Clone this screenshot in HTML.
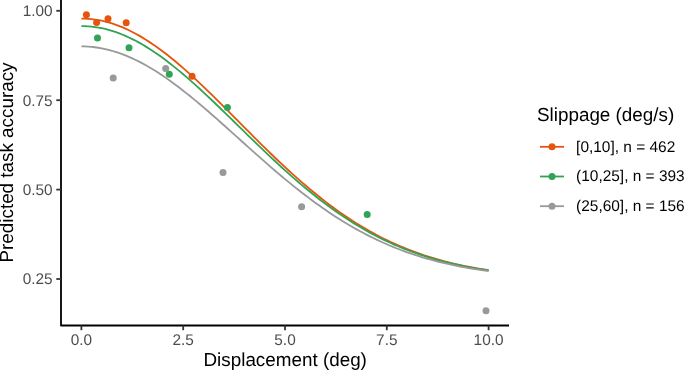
<!DOCTYPE html>
<html><head><meta charset="utf-8"><style>
html,body{margin:0;padding:0;background:#fff;}
body{width:685px;height:371px;overflow:hidden;}
svg{display:block;will-change:transform;}
text{font-family:"Liberation Sans",sans-serif;text-rendering:geometricPrecision;}
.tk{font-size:15.4px;fill:#4D4D4D;}
.ti{font-size:18.85px;fill:#000;}
.lg{font-size:15.45px;fill:#000;}
</style></head><body>
<svg width="685" height="371" viewBox="0 0 685 371">
<path d="M81.40,18.55 L84.79,18.61 L88.19,18.79 L91.58,19.10 L94.97,19.52 L98.37,20.07 L101.76,20.74 L105.15,21.52 L108.55,22.43 L111.94,23.45 L115.33,24.59 L118.73,25.84 L122.12,27.20 L125.51,28.67 L128.91,30.25 L132.30,31.94 L135.69,33.73 L139.09,35.62 L142.48,37.61 L145.87,39.70 L149.27,41.88 L152.66,44.15 L156.05,46.51 L159.45,48.95 L162.84,51.47 L166.23,54.08 L169.63,56.75 L173.02,59.50 L176.41,62.31 L179.81,65.19 L183.20,68.13 L186.59,71.13 L189.99,74.18 L193.38,77.28 L196.77,80.43 L200.17,83.62 L203.56,86.85 L206.95,90.11 L210.35,93.41 L213.74,96.73 L217.13,100.08 L220.53,103.45 L223.92,106.83 L227.31,110.23 L230.71,113.64 L234.10,117.06 L237.49,120.48 L240.89,123.91 L244.28,127.33 L247.67,130.74 L251.07,134.14 L254.46,137.54 L257.85,140.92 L261.25,144.28 L264.64,147.62 L268.03,150.94 L271.43,154.23 L274.82,157.50 L278.21,160.73 L281.61,163.94 L285.00,167.10 L288.39,170.24 L291.79,173.33 L295.18,176.39 L298.57,179.40 L301.97,182.37 L305.36,185.30 L308.75,188.18 L312.15,191.01 L315.54,193.80 L318.93,196.53 L322.33,199.22 L325.72,201.85 L329.11,204.43 L332.51,206.96 L335.90,209.44 L339.29,211.86 L342.69,214.23 L346.08,216.55 L349.47,218.81 L352.87,221.01 L356.26,223.16 L359.65,225.26 L363.05,227.30 L366.44,229.29 L369.83,231.22 L373.23,233.11 L376.62,234.93 L380.01,236.71 L383.41,238.43 L386.80,240.10 L390.19,241.72 L393.59,243.29 L396.98,244.81 L400.37,246.28 L403.77,247.70 L407.16,249.07 L410.55,250.40 L413.95,251.68 L417.34,252.92 L420.73,254.11 L424.13,255.26 L427.52,256.36 L430.91,257.43 L434.31,258.45 L437.70,259.44 L441.09,260.39 L444.49,261.30 L447.88,262.17 L451.27,263.01 L454.67,263.81 L458.06,264.58 L461.45,265.32 L464.85,266.02 L468.24,266.70 L471.63,267.34 L475.03,267.96 L478.42,268.55 L481.81,269.11 L485.21,269.65 L488.60,270.16" fill="none" stroke="#E6550D" stroke-width="1.8" stroke-linejoin="round"/>
<path d="M81.40,26.08 L84.79,26.14 L88.19,26.31 L91.58,26.61 L94.97,27.02 L98.37,27.56 L101.76,28.20 L105.15,28.97 L108.55,29.85 L111.94,30.84 L115.33,31.94 L118.73,33.16 L122.12,34.48 L125.51,35.91 L128.91,37.45 L132.30,39.08 L135.69,40.82 L139.09,42.66 L142.48,44.59 L145.87,46.62 L149.27,48.74 L152.66,50.94 L156.05,53.23 L159.45,55.60 L162.84,58.05 L166.23,60.58 L169.63,63.18 L173.02,65.85 L176.41,68.58 L179.81,71.38 L183.20,74.23 L186.59,77.14 L189.99,80.10 L193.38,83.11 L196.77,86.17 L200.17,89.27 L203.56,92.40 L206.95,95.57 L210.35,98.77 L213.74,102.00 L217.13,105.25 L220.53,108.52 L223.92,111.81 L227.31,115.11 L230.71,118.43 L234.10,121.74 L237.49,125.07 L240.89,128.39 L244.28,131.71 L247.67,135.03 L251.07,138.33 L254.46,141.63 L257.85,144.91 L261.25,148.17 L264.64,151.42 L268.03,154.64 L271.43,157.84 L274.82,161.01 L278.21,164.15 L281.61,167.26 L285.00,170.34 L288.39,173.38 L291.79,176.39 L295.18,179.36 L298.57,182.28 L301.97,185.17 L305.36,188.01 L308.75,190.81 L312.15,193.56 L315.54,196.26 L318.93,198.92 L322.33,201.52 L325.72,204.08 L329.11,206.59 L332.51,209.05 L335.90,211.45 L339.29,213.80 L342.69,216.10 L346.08,218.35 L349.47,220.55 L352.87,222.69 L356.26,224.78 L359.65,226.81 L363.05,228.80 L366.44,230.73 L369.83,232.61 L373.23,234.43 L376.62,236.21 L380.01,237.93 L383.41,239.60 L386.80,241.23 L390.19,242.80 L393.59,244.32 L396.98,245.80 L400.37,247.22 L403.77,248.60 L407.16,249.94 L410.55,251.23 L413.95,252.47 L417.34,253.67 L420.73,254.83 L424.13,255.94 L427.52,257.02 L430.91,258.05 L434.31,259.05 L437.70,260.01 L441.09,260.93 L444.49,261.81 L447.88,262.66 L451.27,263.47 L454.67,264.25 L458.06,265.00 L461.45,265.71 L464.85,266.40 L468.24,267.06 L471.63,267.68 L475.03,268.28 L478.42,268.85 L481.81,269.40 L485.21,269.92 L488.60,270.42" fill="none" stroke="#31A354" stroke-width="1.8" stroke-linejoin="round"/>
<path d="M81.40,46.38 L84.79,46.44 L88.19,46.60 L91.58,46.88 L94.97,47.26 L98.37,47.75 L101.76,48.34 L105.15,49.04 L108.55,49.85 L111.94,50.76 L115.33,51.78 L118.73,52.90 L122.12,54.11 L125.51,55.43 L128.91,56.84 L132.30,58.35 L135.69,59.95 L139.09,61.64 L142.48,63.42 L145.87,65.28 L149.27,67.23 L152.66,69.25 L156.05,71.36 L159.45,73.54 L162.84,75.79 L166.23,78.12 L169.63,80.51 L173.02,82.96 L176.41,85.48 L179.81,88.05 L183.20,90.67 L186.59,93.35 L189.99,96.07 L193.38,98.84 L196.77,101.65 L200.17,104.50 L203.56,107.39 L206.95,110.30 L210.35,113.24 L213.74,116.21 L217.13,119.20 L220.53,122.21 L223.92,125.24 L227.31,128.27 L230.71,131.32 L234.10,134.37 L237.49,137.43 L240.89,140.49 L244.28,143.54 L247.67,146.59 L251.07,149.63 L254.46,152.66 L257.85,155.68 L261.25,158.68 L264.64,161.66 L268.03,164.63 L271.43,167.57 L274.82,170.49 L278.21,173.38 L281.61,176.24 L285.00,179.07 L288.39,181.87 L291.79,184.63 L295.18,187.36 L298.57,190.05 L301.97,192.70 L305.36,195.32 L308.75,197.89 L312.15,200.42 L315.54,202.91 L318.93,205.35 L322.33,207.75 L325.72,210.10 L329.11,212.41 L332.51,214.67 L335.90,216.88 L339.29,219.04 L342.69,221.16 L346.08,223.22 L349.47,225.24 L352.87,227.21 L356.26,229.14 L359.65,231.01 L363.05,232.83 L366.44,234.61 L369.83,236.34 L373.23,238.01 L376.62,239.65 L380.01,241.23 L383.41,242.77 L386.80,244.26 L390.19,245.71 L393.59,247.11 L396.98,248.47 L400.37,249.78 L403.77,251.05 L407.16,252.28 L410.55,253.46 L413.95,254.60 L417.34,255.71 L420.73,256.77 L424.13,257.80 L427.52,258.79 L430.91,259.74 L434.31,260.65 L437.70,261.53 L441.09,262.38 L444.49,263.19 L447.88,263.97 L451.27,264.72 L454.67,265.44 L458.06,266.13 L461.45,266.78 L464.85,267.41 L468.24,268.02 L471.63,268.59 L475.03,269.15 L478.42,269.67 L481.81,270.18 L485.21,270.66 L488.60,271.11" fill="none" stroke="#999999" stroke-width="1.8" stroke-linejoin="round"/>
<circle cx="113.2" cy="77.9" r="3.5" fill="#999999"/>
<circle cx="165.7" cy="68.5" r="3.5" fill="#999999"/>
<circle cx="223.0" cy="172.4" r="3.5" fill="#999999"/>
<circle cx="301.6" cy="206.8" r="3.5" fill="#999999"/>
<circle cx="486.0" cy="310.7" r="3.5" fill="#999999"/>
<circle cx="86.4" cy="14.7" r="3.5" fill="#E6550D"/>
<circle cx="96.6" cy="22.6" r="3.5" fill="#E6550D"/>
<circle cx="108.0" cy="18.8" r="3.5" fill="#E6550D"/>
<circle cx="126.2" cy="22.7" r="3.5" fill="#E6550D"/>
<circle cx="192.1" cy="76.2" r="3.5" fill="#E6550D"/>
<circle cx="97.5" cy="38.0" r="3.5" fill="#31A354"/>
<circle cx="129.0" cy="47.7" r="3.5" fill="#31A354"/>
<circle cx="169.3" cy="74.3" r="3.5" fill="#31A354"/>
<circle cx="227.4" cy="107.4" r="3.5" fill="#31A354"/>
<circle cx="367.2" cy="214.5" r="3.5" fill="#31A354"/>
<path d="M61,0 V325.5 H509" fill="none" stroke="#000" stroke-width="1.8" stroke-linejoin="round"/>
<line x1="56.3" y1="10.80" x2="61" y2="10.80" stroke="#333" stroke-width="1.8"/>
<text x="52.6" y="16.20" text-anchor="end" class="tk">1.00</text>
<line x1="56.3" y1="100.20" x2="61" y2="100.20" stroke="#333" stroke-width="1.8"/>
<text x="52.6" y="105.60" text-anchor="end" class="tk">0.75</text>
<line x1="56.3" y1="189.60" x2="61" y2="189.60" stroke="#333" stroke-width="1.8"/>
<text x="52.6" y="195.00" text-anchor="end" class="tk">0.50</text>
<line x1="56.3" y1="279.00" x2="61" y2="279.00" stroke="#333" stroke-width="1.8"/>
<text x="52.6" y="284.40" text-anchor="end" class="tk">0.25</text>
<line x1="81.40" y1="325.5" x2="81.40" y2="330.2" stroke="#333" stroke-width="1.8"/>
<text x="81.40" y="344.9" text-anchor="middle" class="tk">0.0</text>
<line x1="183.20" y1="325.5" x2="183.20" y2="330.2" stroke="#333" stroke-width="1.8"/>
<text x="183.20" y="344.9" text-anchor="middle" class="tk">2.5</text>
<line x1="285.00" y1="325.5" x2="285.00" y2="330.2" stroke="#333" stroke-width="1.8"/>
<text x="285.00" y="344.9" text-anchor="middle" class="tk">5.0</text>
<line x1="386.80" y1="325.5" x2="386.80" y2="330.2" stroke="#333" stroke-width="1.8"/>
<text x="386.80" y="344.9" text-anchor="middle" class="tk">7.5</text>
<line x1="488.60" y1="325.5" x2="488.60" y2="330.2" stroke="#333" stroke-width="1.8"/>
<text x="488.60" y="344.9" text-anchor="middle" class="tk">10.0</text>
<text x="285.2" y="366.2" text-anchor="middle" class="ti">Displacement (deg)</text>
<text transform="translate(13.4,162.5) rotate(-90)" text-anchor="middle" class="ti">Predicted task accuracy</text>
<text x="537.0" y="120.6" class="ti">Slippage (deg/s)</text>
<line x1="540" y1="146.8" x2="564" y2="146.8" stroke="#E6550D" stroke-width="1.8"/>
<circle cx="552" cy="146.8" r="3.5" fill="#E6550D"/>
<text x="576.1" y="151.6" class="lg">[0,10], n = 462</text>
<line x1="540" y1="176.5" x2="564" y2="176.5" stroke="#31A354" stroke-width="1.8"/>
<circle cx="552" cy="176.5" r="3.5" fill="#31A354"/>
<text x="576.1" y="181.3" class="lg">(10,25], n = 393</text>
<line x1="540" y1="206.2" x2="564" y2="206.2" stroke="#999999" stroke-width="1.8"/>
<circle cx="552" cy="206.2" r="3.5" fill="#999999"/>
<text x="576.1" y="211.0" class="lg">(25,60], n = 156</text>
</svg>
</body></html>
